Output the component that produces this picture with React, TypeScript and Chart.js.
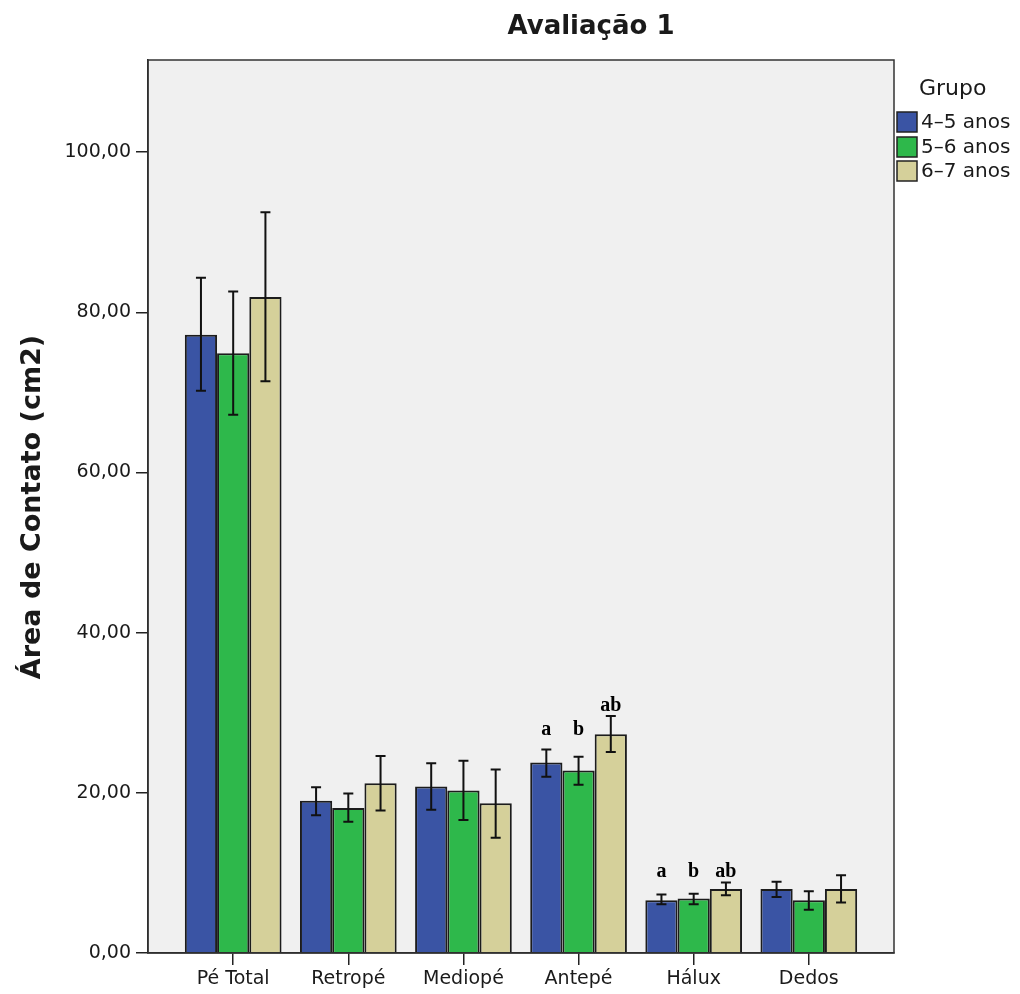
import React, { useEffect, useRef } from "react";
import { Chart, registerables } from "chart.js";

Chart.register(...registerables);

const categories = ["Pé Total", "Retropé", "Mediopé", "Antepé", "Hálux", "Dedos"];
const groupNames = ["4–5 anos", "5–6 anos", "6–7 anos"];

const g45 = [77.2, 19.0, 20.8, 23.8, 6.6, 8.0];
const g45Lo = [70.2, 17.2, 17.9, 22.0, 6.1, 7.0];
const g45Hi = [84.3, 20.7, 23.7, 25.4, 7.3, 8.9];

const g56 = [74.9, 18.1, 20.3, 22.8, 6.8, 6.6];
const g56Lo = [67.2, 16.4, 16.6, 21.0, 6.1, 5.4];
const g56Hi = [82.6, 19.9, 24.0, 24.5, 7.4, 7.7];

const g67 = [81.9, 21.2, 18.7, 27.3, 8.0, 8.0];
const g67Lo = [71.4, 17.8, 14.4, 25.1, 7.2, 6.3];
const g67Hi = [92.5, 24.6, 22.9, 29.6, 8.8, 9.7];

const colors = ["#3a54a4", "#2eb84b", "#d5d09a"];

// significance letters: category index, group index, text, value of baseline
const annCat = [3, 3, 3, 4, 4, 4];
const annGroup = [0, 1, 2, 0, 1, 2];
const annText = ["a", "b", "ab", "a", "b", "ab"];
const annValue = [27.2, 27.2, 30.2, 9.5, 9.5, 9.5];

const yTicksStep = 20;
const yMax = 111.5;

const FONT = "'DejaVu Sans', Verdana, sans-serif";
const TEXT = "#1a1a1a";

export default function App() {
  const ref = useRef<HTMLCanvasElement | null>(null);

  useEffect(() => {
    document.body.style.margin = "0";
    const canvas = ref.current!;
    const lows = [g45Lo, g56Lo, g67Lo];
    const highs = [g45Hi, g56Hi, g67Hi];

    const deco = {
      id: "deco",
      beforeDraw(chart: any) {
        const { ctx, chartArea: a } = chart;
        ctx.save();
        ctx.fillStyle = "#f0f0f0";
        ctx.fillRect(a.left, a.top, a.right - a.left, a.bottom - a.top);
        ctx.restore();
      },
      afterDatasetsDraw(chart: any) {
        const { ctx, chartArea: a } = chart;
        const ys = chart.scales.y;
        ctx.save();
        // error bars
        ctx.strokeStyle = "#111";
        ctx.lineWidth = 2;
        chart.data.datasets.forEach((_: any, di: number) => {
          const meta = chart.getDatasetMeta(di);
          meta.data.forEach((bar: any, i: number) => {
            const x = bar.x;
            const yl = ys.getPixelForValue(lows[di][i]);
            const yh = ys.getPixelForValue(highs[di][i]);
            ctx.beginPath();
            ctx.moveTo(x, yl);
            ctx.lineTo(x, yh);
            ctx.moveTo(x - 5, yl);
            ctx.lineTo(x + 5, yl);
            ctx.moveTo(x - 5, yh);
            ctx.lineTo(x + 5, yh);
            ctx.stroke();
          });
        });
        // annotations
        ctx.fillStyle = "#000";
        ctx.font = "bold 20px 'Liberation Serif', 'Times New Roman', serif";
        ctx.textAlign = "center";
        ctx.textBaseline = "alphabetic";
        for (let k = 0; k < annText.length; k++) {
          const bar = chart.getDatasetMeta(annGroup[k]).data[annCat[k]];
          ctx.fillText(annText[k], bar.x, ys.getPixelForValue(annValue[k]));
        }
        // panel border
        ctx.strokeStyle = "#333";
        ctx.lineWidth = 1.5;
        ctx.strokeRect(a.left, a.top, a.right - a.left, a.bottom - a.top);
        ctx.restore();
      },
      afterDraw(chart: any) {
        const { ctx } = chart;
        ctx.save();
        ctx.fillStyle = TEXT;
        // title
        ctx.font = `bold 26px ${FONT}`;
        ctx.textAlign = "center";
        ctx.textBaseline = "middle";
        ctx.fillText("Avaliação 1", 591, 27);
        // y title
        ctx.save();
        ctx.translate(33, 507);
        ctx.rotate(-Math.PI / 2);
        ctx.font = `bold 27px ${FONT}`;
        ctx.fillText("Área de Contato (cm2)", 0, 0);
        ctx.restore();
        // legend
        ctx.textAlign = "left";
        ctx.font = `22px ${FONT}`;
        ctx.fillText("Grupo", 919, 89);
        ctx.font = `20px ${FONT}`;
        const tops = [112, 137, 161];
        for (let i = 0; i < groupNames.length; i++) {
          ctx.fillStyle = colors[i];
          ctx.fillRect(897, tops[i], 20, 20);
          ctx.strokeStyle = "#222";
          ctx.lineWidth = 1.5;
          ctx.strokeRect(897, tops[i], 20, 20);
          ctx.fillStyle = TEXT;
          ctx.fillText(groupNames[i], 921, tops[i] + 11);
        }
        ctx.restore();
      },
    };

    const mk = (vals: number[]) => vals.map((v, i) => ({ x: i, y: v }));

    const chart = new Chart(canvas, {
      type: "bar",
      data: {
        datasets: [g45, g56, g67].map((vals, i) => ({
          label: groupNames[i],
          data: mk(vals),
          backgroundColor: colors[i],
          borderColor: "#1c1c1c",
          borderWidth: 2,
          categoryPercentage: 0.84,
          barPercentage: 1,
        })),
      },
      options: {
        responsive: false,
        animation: false,
        layout: { padding: { left: 0, right: 126, top: 60, bottom: 0 } },
        plugins: { legend: { display: false }, title: { display: false }, tooltip: { enabled: false } },
        scales: {
          x: {
            type: "linear",
            min: -0.74,
            max: 5.74,
            offset: false,
            grid: { offset: false, drawOnChartArea: false, drawTicks: true, tickLength: 12, color: "#222", lineWidth: 1.5 },
            border: { display: true, color: "#222", width: 1.5 },
            ticks: {
              stepSize: 1,
              includeBounds: false,
              autoSkip: false,
              maxRotation: 0,
              padding: 3,
              color: TEXT,
              font: { family: FONT, size: 19 },
              callback: (v: any) => (Number.isInteger(v) && categories[v] !== undefined ? categories[v] : ""),
            },
            afterFit: (s: any) => {
              s.height = 41;
            },
          },
          y: {
            type: "linear",
            min: 0,
            max: yMax,
            grid: { drawOnChartArea: false, drawTicks: true, tickLength: 12, color: "#222", lineWidth: 1.5 },
            border: { display: true, color: "#222", width: 1.5 },
            ticks: {
              stepSize: yTicksStep,
              includeBounds: false,
              padding: 5,
              color: TEXT,
              font: { family: FONT, size: 19 },
              callback: (v: any) => Number(v).toFixed(2).replace(".", ","),
            },
            afterFit: (s: any) => {
              s.width = 148;
            },
          },
        },
      },
      plugins: [deco],
    });
    return () => chart.destroy();
  }, []);

  return (
    <div style={{ width: 1020, height: 994, background: "#fff" }}>
      <canvas ref={ref} width={1020} height={994} style={{ display: "block", width: 1020, height: 994 }} />
    </div>
  );
}
